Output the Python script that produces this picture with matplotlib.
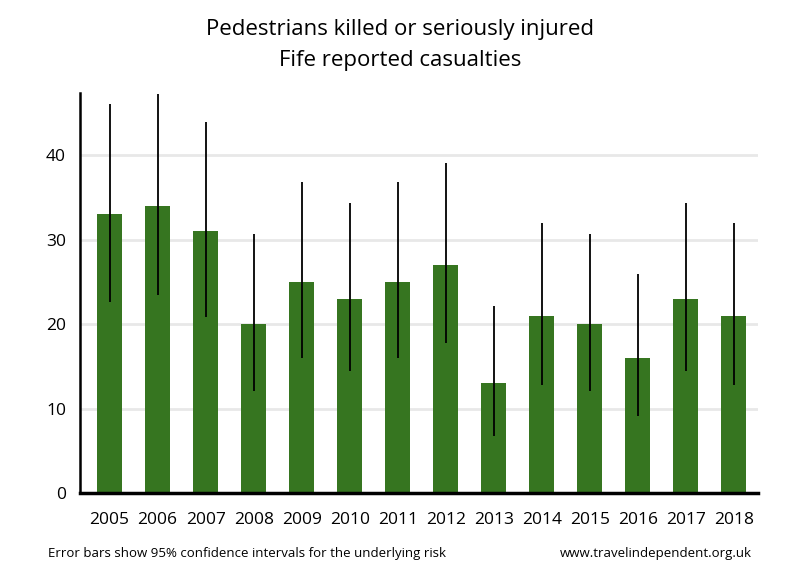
import numpy as np
import matplotlib
matplotlib.use("Agg")
import matplotlib.pyplot as plt

plt.rcParams["font.family"] = ["Open Sans", "DejaVu Sans"]

years = ["2005", "2006", "2007", "2008", "2009", "2010", "2011",
         "2012", "2013", "2014", "2015", "2016", "2017", "2018"]
casualties = [33, 34, 31, 20, 25, 23, 25, 27, 13, 21, 20, 16, 23, 21]
ci_low = [22.6, 23.4, 20.9, 12.1, 16.0, 14.5, 16.0, 17.8, 6.8, 12.8, 12.1, 9.1, 14.5, 12.8]
ci_high = [46.1, 47.3, 43.9, 30.7, 36.8, 34.4, 36.8, 39.1, 22.2, 32.0, 30.7, 25.9, 34.4, 32.0]

fig = plt.figure(figsize=(8, 5.8), dpi=100)
ax = fig.add_axes([0.1, 0.15, 0.8475, 0.69])

x = np.arange(len(years))
ax.bar(x, casualties, width=0.52, color="#367520", zorder=2)
ax.vlines(x, ci_low, ci_high, color="black", lw=1.3, zorder=3)

ax.set_xlim(-0.615, 13.5)
ax.set_ylim(0, 47.4)
ax.set_yticks([0, 10, 20, 30, 40])
ax.yaxis.grid(True, color="#e8e8e8", lw=2, zorder=0)
ax.set_axisbelow(True)
ax.set_xticks(x)
ax.set_xticklabels(years)
ax.tick_params(axis="both", length=0, labelsize=12.5)
ax.tick_params(axis="x", pad=14)
ax.tick_params(axis="y", pad=10)
for s in ["top", "right"]:
    ax.spines[s].set_visible(False)
ax.spines["left"].set_linewidth(1.8)
ax.spines["bottom"].set_linewidth(2.5)

fig.text(0.5, 0.95, "Pedestrians killed or seriously injured", ha="center", va="center", fontsize=16)
fig.text(0.5, 0.895, "Fife reported casualties", ha="center", va="center", fontsize=16)
fig.text(0.06, 0.046, "Error bars show 95% confidence intervals for the underlying risk", ha="left", va="center", fontsize=9.5)
fig.text(0.94, 0.046, "www.travelindependent.org.uk", ha="right", va="center", fontsize=9.5)

fig.savefig("out.png")
